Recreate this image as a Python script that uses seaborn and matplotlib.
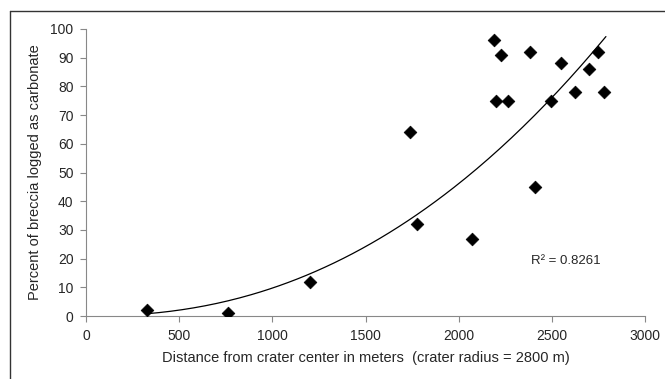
import numpy as np
import pandas as pd
import matplotlib
matplotlib.use("Agg")
import matplotlib.pyplot as plt
import seaborn as sns
from matplotlib.lines import Line2D

distance = [330, 760, 1200, 1740, 1775, 2070, 2190, 2200, 2225, 2265, 2385, 2410,
            2495, 2550, 2625, 2700, 2745, 2780]
percent = [2, 1, 12, 64, 32, 27, 96, 75, 91, 75, 92, 45, 75, 88, 78, 86, 92, 78]
x_ticks = [0, 500, 1000, 1500, 2000, 2500, 3000]
y_ticks = [0, 10, 20, 30, 40, 50, 60, 70, 80, 90, 100]
r2_label = "R² = 0.8261"

sns.set_style("white")
plt.rcParams['font.family'] = ['Liberation Sans', 'DejaVu Sans']

df = pd.DataFrame({"distance": distance, "percent": percent})

fig = plt.figure(figsize=(6.65, 3.79), dpi=100)
ax = fig.add_axes([0.1293, 0.1662, 0.8407, 0.7573])

# power trendline (fit in log space, like a spreadsheet power trendline)
b, ln_a = np.polyfit(np.log(df.distance), np.log(df.percent), 1)
xs = np.linspace(min(distance), 2790, 200)
ys = np.exp(ln_a) * xs ** b
sns.lineplot(x=xs, y=ys, ax=ax, color="black", linewidth=0.9)

sns.scatterplot(data=df, x="distance", y="percent", ax=ax, marker="D",
                color="black", s=42, edgecolor="black", linewidth=0.5, zorder=3)

ax.set_xlim(0, 3000)
ax.set_ylim(0, 100)
ax.set_xticks(x_ticks)
ax.set_yticks(y_ticks)
ax.tick_params(axis="both", labelsize=10, length=4, width=0.8, color="#888888",
               direction="out", bottom=True, left=True, pad=5)
for s in ["top", "right"]:
    ax.spines[s].set_visible(False)
for s in ["left", "bottom"]:
    ax.spines[s].set_color("#888888")
    ax.spines[s].set_linewidth(0.8)

ax.set_xlabel("Distance from crater center in meters  (crater radius = 2800 m)",
              fontsize=10.5, labelpad=6)
ax.set_ylabel("Percent of breccia logged as carbonate", fontsize=10.5, labelpad=6)

ax.text(2388, 19, r2_label, fontsize=9.5, ha="left", va="center")

# outer frame (left and top edges)
fig.add_artist(Line2D([10/665, 10/665], [0, 1 - 11/379], transform=fig.transFigure,
                      color="#333333", linewidth=1))
fig.add_artist(Line2D([10/665, 1], [1 - 11/379, 1 - 11/379], transform=fig.transFigure,
                      color="#333333", linewidth=1))

fig.savefig("out.png", dpi=100)
